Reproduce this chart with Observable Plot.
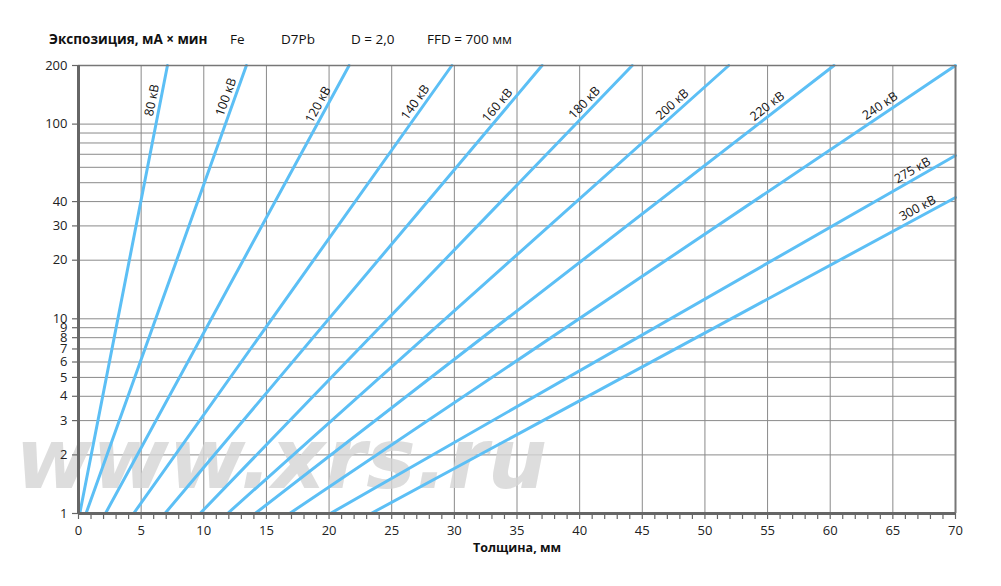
<!DOCTYPE html>
<html><head><meta charset="utf-8">
<script src="https://cdn.jsdelivr.net/npm/d3@7"></script>
<script src="https://cdn.jsdelivr.net/npm/@observablehq/plot@0.6"></script>
<style>
body{margin:0;background:#fff;font-family:"Open Sans",sans-serif;}
#hdr{position:relative;height:50px;width:1001px;font-size:13.5px;color:#111;}
#hdr span{position:absolute;top:30px;white-space:nowrap;}
#chart svg{display:block;}
</style></head><body>
<div id="hdr">
  <span style="left:49px;font-weight:700">Экспозиция, мА × мин</span>
  <span style="left:230px">Fe</span>
  <span style="left:281px">D7Pb</span>
  <span style="left:351px">D = 2,0</span>
  <span style="left:427px">FFD = 700 мм</span>
</div>
<div id="chart"></div>
<script>
// Series: tube voltage curves, each a straight line on log scale
const voltages   = ["80 кВ","100 кВ","120 кВ","140 кВ","160 кВ","180 кВ","200 кВ","220 кВ","240 кВ","275 кВ","300 кВ"];
const startMm    = [0.1, 0.6, 2.15, 4.4, 6.9, 9.7, 11.9, 14.1, 16.85, 20.1, 23.35];   // thickness at exposure 1
const startExp   = [1, 1, 1, 1, 1, 1, 1, 1, 1, 1, 1];
const endMm      = [7.1, 13.4, 21.6, 29.8, 37.0, 44.2, 51.9, 60.3, 70, 70, 70];
const endExp     = [200, 200, 200, 200, 200, 200, 200, 200, 200, 69, 42];
// label anchors along each line (exposure value where label sits)
const labelExp   = [130, 133, 120, 122, 117, 120, 117, 114, 114, null, null];
const labelMm    = [null, null, null, null, null, null, null, null, null, 66.9, 67.3];

const xTicks = d3.range(0, 71, 5);
const xMinor = d3.range(0, 71, 1);
const yGrid  = [1,2,3,4,5,6,7,8,9,10,20,30,40,50,60,70,80,90,100,200];
const yLabels = [1,2,3,4,5,6,7,8,9,10,20,30,40,100,200];

const segs = [];
voltages.forEach((v, i) => {
  segs.push({v, x: startMm[i], y: startExp[i]});
  segs.push({v, x: endMm[i], y: endExp[i]});
});

const W = 1001, H = 536;
const common = {
  width: W, height: H,
  marginLeft: 78, marginRight: 46, marginTop: 15, marginBottom: 73,
  x: {domain: [0, 70]},
  y: {type: "log", domain: [1, 200]}
};

// first pass to obtain scales
const probe = Plot.plot({...common, marks: [Plot.dot([{x:0,y:1}], {x:"x", y:"y"})]});
const sx = probe.scale("x"), sy = probe.scale("y");

const labels = voltages.map((v, i) => {
  const x0 = sx.apply(startMm[i]), y0 = sy.apply(startExp[i]);
  const x1 = sx.apply(endMm[i]), y1 = sy.apply(endExp[i]);
  const ang = Math.atan2(y0 - y1, x1 - x0); // radians, positive upward
  let t;
  if (labelExp[i] != null) t = (y0 - sy.apply(labelExp[i])) / (y0 - y1);
  else t = (sx.apply(labelMm[i]) - x0) / (x1 - x0);
  const px = x0 + t * (x1 - x0), py = y0 + t * (y1 - y0);
  const off = 8.5;
  const cx = px - off * Math.sin(ang), cy = py - off * Math.cos(ang);
  return {v, x: sx.invert(cx), y: sy.invert(cy), rot: -ang * 180 / Math.PI};
});

const chart = Plot.plot({
  ...common,
  style: {fontFamily: "'Open Sans', sans-serif", fontSize: "13px", color: "#222", background: "#fff"},
  x: {...common.x, label: null},
  y: {...common.y, label: null, axis: null},
  marks: [
    Plot.ruleX(xTicks, {stroke: "#8a8a8a", strokeWidth: 1}),
    Plot.ruleY(yGrid, {stroke: "#8a8a8a", strokeWidth: 1}),
    Plot.text(["www.xrs.ru"], {frameAnchor: "bottom-left", dx: -63, dy: -26, text: d => d,
      fontSize: 83, fontWeight: 900, fontStyle: "italic", fill: "#d4d4d4", fillOpacity: 0.8,
      textAnchor: "start", fontFamily: "'DejaVu Sans', sans-serif"}),
    Plot.line(segs, {x: "x", y: "y", z: "v", stroke: "#5cbff5", strokeWidth: 3}),
    Plot.text(labels, {x: "x", y: "y", text: "v", rotate: "rot", fill: "#111", fontSize: 12.5, textAnchor: "middle"}),
    Plot.axisX(xMinor, {tickSize: 6, tickFormat: () => "", stroke: "#666", strokeWidth: 1.2, label: null}),
    Plot.ruleY([200], {stroke: "#777", strokeWidth: 1.5}),
    Plot.ruleX([70], {stroke: "#777", strokeWidth: 2}),
    Plot.axisX(xTicks, {tickSize: 0, tickPadding: 12, fontSize: 13, label: null}),
    Plot.text(["Толщина, мм"], {frameAnchor: "bottom", dy: 38, text: d => d, fontWeight: 700, fontSize: 12.5, fill: "#111"}),
    Plot.ruleY(yLabels, {y: d => d, x1: 0, x2: 0, insetLeft: -6, stroke: "#666", strokeWidth: 1.2}),
    Plot.text(yLabels, {y: d => d, frameAnchor: "left", dx: -11, textAnchor: "end", fontSize: 13, fill: "#222", text: d => String(d)}),
    Plot.ruleX([0], {stroke: "#666", strokeWidth: 3}),
    Plot.ruleY([1], {stroke: "#666", strokeWidth: 3})
  ]
});
document.getElementById("chart").appendChild(chart);
</script>
</body></html>
